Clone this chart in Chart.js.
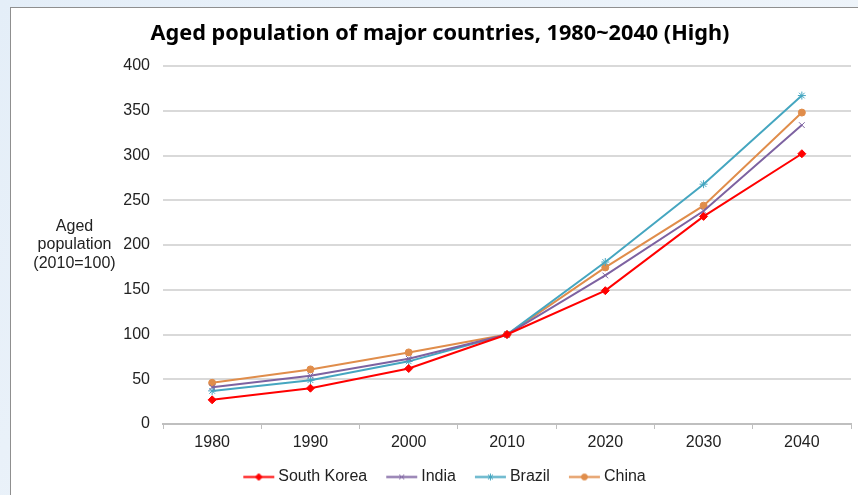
<!DOCTYPE html>
<html>
<head>
<meta charset="utf-8">
<script src="https://cdn.jsdelivr.net/npm/chart.js@4.4.1/dist/chart.umd.min.js"></script>
<style>
  html, body { margin: 0; padding: 0; }
  body { width: 858px; height: 495px; overflow: hidden; position: relative;
         background: linear-gradient(135deg, #e4eef8, #f3f7fb); }
  #panel { position: absolute; left: 10px; top: 7px; width: 900px; height: 600px;
           background: #fff; border: 1px solid #8f8f8f; }
  #wrap { position: absolute; left: 0; top: 0; width: 858px; height: 495px; }
</style>
</head>
<body>
<div id="panel"></div>
<div id="wrap"><canvas id="agedChart" width="858" height="495"></canvas></div>
<script>
// Aged population index (2010 = 100), high variant
const years = ['1980', '1990', '2000', '2010', '2020', '2030', '2040'];
const southKorea = [27, 40, 62, 100, 149, 232, 302];
const india      = [41, 54, 73, 100, 166, 238, 334];
const brazil     = [37, 49, 70, 100, 181, 268, 367];
const china      = [46, 61, 80, 100, 175, 244, 348];

const yTicks = [0, 50, 100, 150, 200, 250, 300, 350, 400];

const seriesNames  = ['South Korea', 'India', 'Brazil', 'China'];
const seriesColors = ['#ff0000', '#7d62a1', '#45a6c0', '#e08d4b'];
const seriesMarks  = ['rectRot', 'crossRot', 'star', 'circle'];
const seriesRadius = [4, 4, 4, 3.5];

const FONT = '"Liberation Sans", Arial, sans-serif';

// line+marker icon for the legend; the line sits right of centre so the
// text follows it closely while items stay well apart
function legendIcon(color, style, radius) {
    const c = document.createElement('canvas');
    c.width = 62;
    c.height = 11;
    const ctx = c.getContext('2d');
    ctx.strokeStyle = color;
    ctx.lineWidth = 2;
    ctx.beginPath();
    ctx.moveTo(22, 5.5);
    ctx.lineTo(53, 5.5);
    ctx.stroke();
    ctx.fillStyle = color;
    ctx.lineWidth = 1;
    Chart.helpers.drawPoint(ctx, { pointStyle: style, radius: radius - 0.5, borderWidth: 1 }, 37.5, 5.5);
    return c;
}

const legendIcons = seriesNames.map((n, i) => legendIcon(seriesColors[i], seriesMarks[i], seriesRadius[i]));

const datasets = [southKorea, india, brazil, china].map((vals, i) => ({
    label: seriesNames[i],
    data: vals,
    borderColor: seriesColors[i],
    backgroundColor: seriesColors[i],
    borderWidth: 2,
    pointStyle: seriesMarks[i],
    pointRadius: seriesRadius[i],
    pointBorderWidth: 1,
    tension: 0
}));

// horizontal y-axis caption on the left
const yCaption = {
    id: 'yCaption',
    afterDraw(chart) {
        const ctx = chart.ctx;
        const area = chart.chartArea;
        const lines = ['Aged', 'population', '(2010=100)'];
        const cx = area.left - 88.5;
        const cy = (area.top + area.bottom) / 2;
        ctx.save();
        ctx.font = '16px ' + FONT;
        ctx.fillStyle = '#222';
        ctx.textAlign = 'center';
        ctx.textBaseline = 'middle';
        lines.forEach((t, i) => ctx.fillText(t, cx, cy + (i - 1) * 18.5));
        ctx.restore();
    }
};

new Chart(document.getElementById('agedChart'), {
    type: 'line',
    data: { labels: years, datasets: datasets },
    options: {
        responsive: false,
        animation: false,
        layout: { padding: { left: 29, right: 7, top: 0, bottom: 0 } },
        plugins: {
            title: {
                display: true,
                text: 'Aged population of major countries, 1980~2040 (High)',
                color: '#000',
                font: { family: '"Noto Sans", sans-serif', size: 21.7, weight: 'bold', lineHeight: 1.2 },
                padding: { top: 21, bottom: 19 }
            },
            legend: {
                position: 'bottom',
                labels: {
                    usePointStyle: true,
                    pointStyleWidth: 36,
                    padding: 10,
                    color: '#222',
                    font: { family: FONT, size: 16 },
                    generateLabels(chart) {
                        const items = Chart.defaults.plugins.legend.labels.generateLabels(chart);
                        items.forEach((it, i) => { it.pointStyle = legendIcons[i]; });
                        return items;
                    }
                }
            },
            tooltip: { enabled: false }
        },
        scales: {
            x: {
                offset: true,
                grid: {
                    offset: true,
                    drawOnChartArea: false,
                    drawTicks: true,
                    tickLength: 5,
                    color: '#bfbfbf'
                },
                border: { color: '#bfbfbf', width: 2 },
                ticks: {
                    color: '#222',
                    padding: 4,
                    maxRotation: 0,
                    font: { family: FONT, size: 16 }
                },
                afterFit(scale) { scale.height = 35; }
            },
            y: {
                min: 0,
                max: 400,
                afterBuildTicks(scale) { scale.ticks = yTicks.map(v => ({ value: v })); },
                grid: { color: '#d9d9d9', lineWidth: 2, drawTicks: false },
                border: { display: false },
                ticks: {
                    color: '#222',
                    padding: 13,
                    font: { family: FONT, size: 16 }
                },
                afterFit(scale) { scale.width = 134; }
            }
        }
    },
    plugins: [yCaption]
});
</script>
</body>
</html>
